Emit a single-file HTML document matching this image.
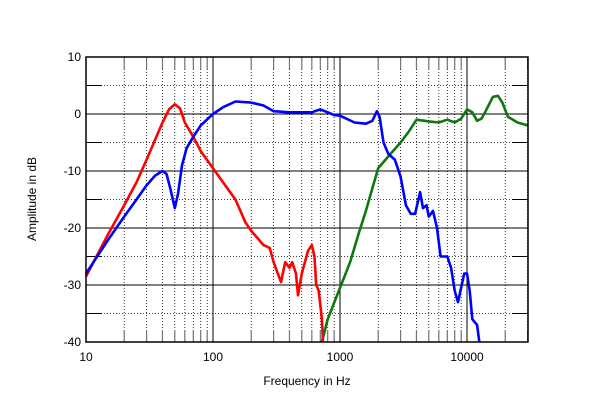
<!DOCTYPE html>
<html><head><meta charset="utf-8"><style>
body{margin:0;background:#fff;width:600px;height:408px;overflow:hidden}
text{font-family:"Liberation Sans",Arial,sans-serif;font-size:12px;fill:#000}
</style></head><body>
<svg id="c" width="600" height="408" xmlns="http://www.w3.org/2000/svg">
<g id="grid"></g>
<g id="series"></g>
<rect x="86" y="57" width="442" height="285" fill="none" stroke="#000" stroke-width="1.5"/>
<g id="labels"></g>
<text x="307" y="385" text-anchor="middle">Frequency in Hz</text>
<text transform="translate(36,199) rotate(-90)" text-anchor="middle">Amplitude in dB</text>
</svg>
<script>
const xTicks=[10,100,1000,10000];
const xTickLabels=["10","100","1000","10000"];
const yTicks=[10,0,-10,-20,-30,-40];
const yTickLabels=["10","0","-10","-20","-30","-40"];
const redF=[10,15,20,25,30,35,40,45,50,55,60,70,80,100,120,150,180,200,250,280,300,343,370,400,420,450,467,500,560,600,630,650,680,720,735];
const redV=[-28.5,-21,-16,-12,-8,-4.5,-1.5,0.8,1.7,1,-1.5,-4,-6.5,-9.5,-12,-15,-19,-20.5,-23,-23.5,-26,-29.5,-26,-27,-26,-28,-31.8,-28,-24,-23,-25,-30,-31,-36,-40];
const blueF=[10,15,20,25,30,35,40,43,46,50,53,57,62,70,80,100,120,150,200,250,300,400,600,700,800,900,1000,1300,1600,1800,1954,2050,2200,2400,2700,3000,3300,3600,3900,4270,4500,4800,5000,5400,5800,6200,7000,7500,8000,8500,9500,10000,10500,11000,12000,12500];
const blueV=[-28,-22,-18,-15,-12.5,-10.8,-10,-10.5,-13,-16.5,-14,-9,-6,-4,-2,0,1.2,2.2,2,1.5,0.5,0.3,0.3,0.8,0.3,-0.2,-0.3,-1.5,-1.7,-1.2,0.5,-0.5,-5,-7,-8,-11,-16,-17.5,-17.5,-13.7,-16.5,-16,-18,-17,-20,-25,-25,-27,-31,-33,-28,-28,-31,-36,-37,-40];
const greenF=[720,800,1000,1200,1400,1600,1800,2000,2500,3000,3500,4000,5000,6000,7000,8000,9000,10000,11000,12000,13000,14000,16000,17500,19000,21000,25000,30000];
const greenV=[-40,-36,-30.5,-26,-21,-17,-13,-9.5,-7,-5,-3,-1,-1.3,-1.5,-1,-1.5,-0.8,0.8,0.3,-1.2,-0.8,0.5,3,3.2,2,-0.5,-1.5,-2];
const L=86,R=528,T=57,B=342;
const xs=f=>L+(Math.log10(f)-1)*127;
const ys=v=>T+(10-v)*5.7;
const NS="http://www.w3.org/2000/svg";
function mk(tag,attrs,parent){const e=document.createElementNS(NS,tag);for(const k in attrs)e.setAttribute(k,attrs[k]);parent.appendChild(e);return e;}
const g=document.getElementById('grid');
for(let d=10;d<=10000;d*=10){for(let m=1;m<=9;m++){const f=d*m;if(f>30000)break;const x=xs(f);
 if(m===1){const l=mk('line',{x1:x,x2:x,y1:T,y2:B,stroke:'#000','stroke-width':1},g);}
 else{const l=mk('line',{x1:x,x2:x,y1:T,y2:B,stroke:'#000','stroke-width':0.8,'stroke-dasharray':'1,2'},g);
  const t1=mk('line',{x1:x,x2:x,y1:T,y2:T+12,stroke:'#777','stroke-width':1.2},g);
  const t2=mk('line',{x1:x,x2:x,y1:B-12,y2:B,stroke:'#777','stroke-width':1.2},g);}
}}
for(let v=5;v>=-35;v-=5){const y=ys(v);
 if(v%10===0){const l=mk('line',{x1:L,x2:R,y1:y,y2:y,stroke:'#000','stroke-width':1},g);}
 else{const l=mk('line',{x1:L,x2:R,y1:y,y2:y,stroke:'#000','stroke-width':0.8,'stroke-dasharray':'1,2'},g);
  const a=mk('line',{x1:L,x2:L+16,y1:y,y2:y,stroke:'#000','stroke-width':1},g);
  const b=mk('line',{x1:R-16,x2:R,y1:y,y2:y,stroke:'#000','stroke-width':1},g);}
}
const lab=document.getElementById('labels');
xTicks.forEach((f,i)=>{const t=mk('text',{x:xs(f),y:B+19,'text-anchor':'middle'},lab);t.textContent=xTickLabels[i];});
yTicks.forEach((v,i)=>{const t=mk('text',{x:L-5,y:ys(v)+4,'text-anchor':'end'},lab);t.textContent=yTickLabels[i];});
const s=document.getElementById('series');
function line(F,V,color,name){const d=F.map((f,i)=>(i?'L':'M')+xs(f).toFixed(1)+','+ys(V[i]).toFixed(1)).join('');
 const p=mk('path',{d:d,fill:'none',stroke:color,'stroke-width':2.6,'stroke-linejoin':'round'},s);}
line(greenF,greenV,'#117711','tweeter-response');
line(redF,redV,'#ff0000','woofer-response');
line(blueF,blueV,'#0000ff','midrange-response');
</script>
</body></html>
